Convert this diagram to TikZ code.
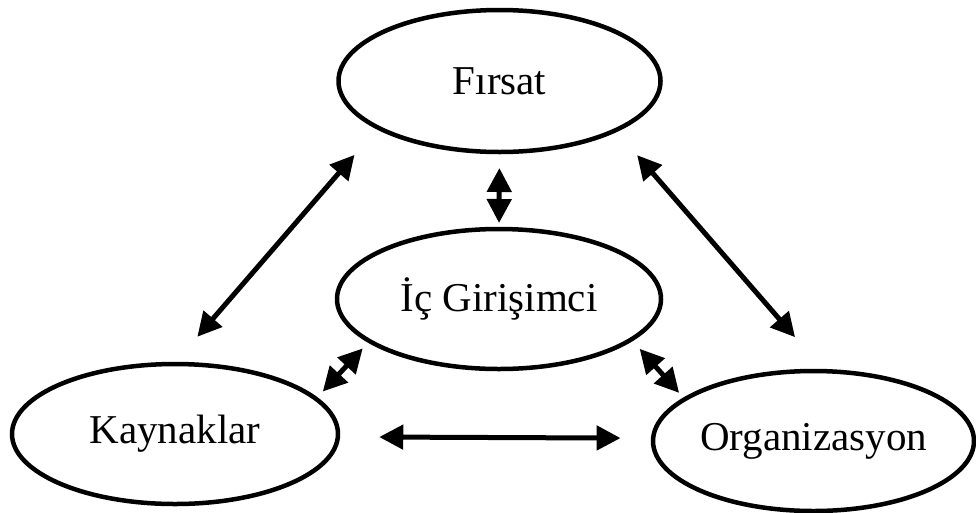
\documentclass[tikz,border=0pt]{standalone}
\usepackage{fontspec}
\setmainfont{Liberation Serif}
\usetikzlibrary{shapes.geometric,arrows.meta}
\begin{document}
\begin{tikzpicture}[x=1pt,y=-1pt,
  oval/.style={draw, ellipse, line width=4.5pt, inner sep=0pt, outer sep=0pt,
    font=\fontsize{41}{49}\selectfont},
  biarrow/.style={line width=5pt,
    {Triangle[length=24pt,width=24pt]}-{Triangle[length=24pt,width=24pt]}}]
\useasboundingbox[fill=white] (0,0) rectangle (976,512);

% the four concepts
\node[oval, minimum width=322pt, minimum height=142pt] (F) at (499.5,81) {Fırsat};
\node[oval, minimum width=324pt, minimum height=140pt] (I) at (499,299) {İç Girişimci};
\node[oval, minimum width=326pt, minimum height=140pt] (K) at (175,434) {Kaynaklar};
\node[oval, minimum width=318pt, minimum height=140pt] (O) at (813.5,441) {Organizasyon};

% two-way relations
\draw[biarrow, shorten <=36pt, shorten >=36pt] (F.201) -- (K.91);
\draw[biarrow, shorten <=33pt, shorten >=45pt] (F.337) -- (O.81);
\draw[biarrow, shorten <=16pt, shorten >=6pt] (F.-90) -- (I.90);
\draw[biarrow, shorten <=10pt, shorten >=10pt] (I.198) -- (K.14);
\draw[biarrow, shorten <=12.6pt, shorten >=8.5pt] (I.343) -- (O.162);
\draw[biarrow, shorten <=41.4pt, shorten >=32.6pt] (K.-1.8) -- (O.179.3);
\end{tikzpicture}
\end{document}
